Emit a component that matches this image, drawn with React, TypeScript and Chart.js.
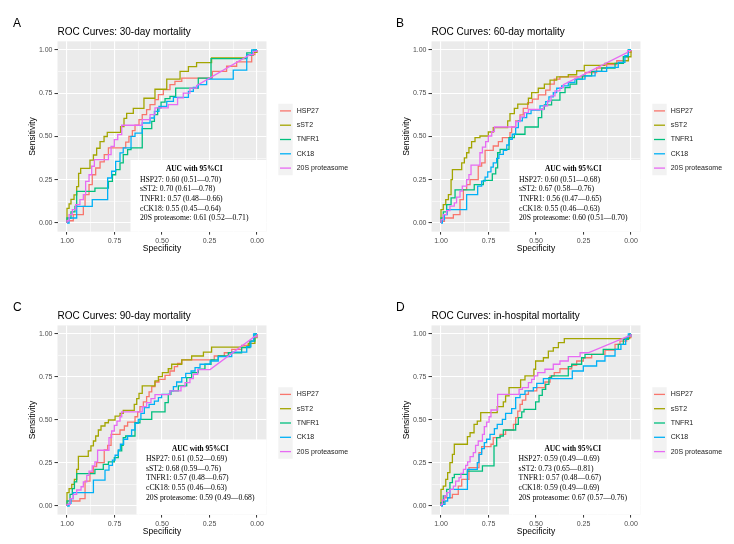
import React, { useEffect, useRef } from "react";
import { Chart, registerables } from "chart.js";
Chart.register(...registerables);

type Pt = [number, number]; // [specificity, sensitivity]

// ---------- shared labels ----------
const SERIES_NAMES = ["HSP27", "sST2", "TNFR1", "CK18", "20S proteasome"];
const SERIES_COLORS = ["#F8766D", "#A3A500", "#00BF7D", "#00B0F6", "#E76BF3"];
const TICK_LABELS = ["0.00", "0.25", "0.50", "0.75", "1.00"];
const GRID_VALUES = [0, 0.125, 0.25, 0.375, 0.5, 0.625, 0.75, 0.875, 1];
const PANEL_LETTERS = ["A", "B", "C", "D"];
const PANEL_TITLES = [
  "ROC Curves: 30-day mortality",
  "ROC Curves: 60-day mortality",
  "ROC Curves: 90-day mortality",
  "ROC Curves: in-hospital mortality",
];
const X_TITLE = "Specificity";
const Y_TITLE = "Sensitivity";
const AUC_TITLE = "AUC with 95%CI";
const AUC_A = ["HSP27: 0.60 (0.51\u20140.70)", "sST2: 0.70 (0.61\u20140.78)", "TNFR1: 0.57 (0.48\u20140.66)", "cCK18: 0.55 (0.45\u20140.64)", "20S proteasome: 0.61 (0.52\u20140.71)"];
const AUC_B = ["HSP27: 0.60 (0.51\u20140.68)", "sST2: 0.67 (0.58\u20140.76)", "TNFR1: 0.56 (0.47\u20140.65)", "cCK18: 0.55 (0.46\u20140.63)", "20S proteasome: 0.60 (0.51\u20140.70)"];
const AUC_C = ["HSP27: 0.61 (0.52\u20140.69)", "sST2: 0.68 (0.59\u20140.76)", "TNFR1: 0.57 (0.48\u20140.67)", "cCK18: 0.55 (0.46\u20140.63)", "20S proteasome: 0.59 (0.49\u20140.68)"];
const AUC_D = ["HSP27: 0.59 (0.49\u20140.69)", "sST2: 0.73 (0.65\u20140.81)", "TNFR1: 0.57 (0.48\u20140.67)", "cCK18: 0.59 (0.49\u20140.69)", "20S proteasome: 0.67 (0.57\u20140.76)"];

// ---------- Panel A: 30-day ----------
const A_HSP27: Pt[] = [[1,0],[1,.013],[.967,.013],[.967,.048],[.914,.048],[.914,.096],[.905,.096],[.905,.164],[.884,.164],[.884,.222],[.867,.222],[.867,.279],[.849,.279],[.849,.318],[.826,.318],[.826,.353],[.804,.353],[.804,.395],[.782,.395],[.782,.434],[.691,.434],[.691,.468],[.674,.468],[.674,.501],[.656,.501],[.656,.534],[.642,.534],[.642,.565],[.621,.565],[.621,.597],[.604,.597],[.604,.626],[.581,.626],[.581,.655],[.563,.655],[.563,.684],[.537,.684],[.537,.713],[.519,.713],[.519,.742],[.493,.742],[.493,.771],[.458,.771],[.458,.8],[.432,.8],[.432,.819],[.396,.819],[.396,.838],[.235,.838],[.235,.877],[.16,.877],[.16,.906],[.107,.906],[.107,.931],[.028,.931],[.028,.973],[.011,.973],[.011,.992],[0,.992],[0,1]];
const A_SST2: Pt[] = [[1,0],[1,.085],[.989,.085],[.989,.11],[.979,.11],[.979,.137],[.963,.137],[.963,.162],[.949,.162],[.949,.21],[.939,.21],[.939,.287],[.928,.287],[.928,.316],[.879,.316],[.879,.364],[.861,.364],[.861,.393],[.844,.393],[.844,.432],[.826,.432],[.826,.47],[.805,.47],[.805,.5],[.788,.5],[.788,.524],[.718,.524],[.718,.557],[.7,.557],[.7,.605],[.686,.605],[.686,.634],[.651,.634],[.651,.663],[.595,.663],[.595,.721],[.537,.721],[.537,.773],[.475,.773],[.475,.832],[.405,.832],[.405,.877],[.361,.877],[.361,.904],[.318,.904],[.318,.927],[.239,.927],[.239,.954],[.054,.954],[.054,.971],[.019,.971],[.019,.986],[0,.986],[0,1]];
const A_TNFR1: Pt[] = [[1,0],[1,.029],[.979,.029],[.979,.064],[.958,.064],[.958,.096],[.949,.096],[.949,.183],[.853,.183],[.853,.202],[.782,.202],[.782,.241],[.761,.241],[.761,.279],[.744,.279],[.744,.308],[.721,.308],[.721,.347],[.704,.347],[.704,.395],[.681,.395],[.681,.424],[.663,.424],[.663,.434],[.604,.434],[.604,.545],[.554,.545],[.554,.588],[.54,.588],[.54,.626],[.523,.626],[.523,.665],[.505,.665],[.505,.699],[.484,.699],[.484,.719],[.458,.719],[.458,.732],[.428,.732],[.428,.78],[.309,.78],[.309,.838],[.242,.838],[.242,.95],[.054,.95],[.054,.983],[.019,.983],[.019,1],[0,1]];
const A_CK18: Pt[] = [[1,0],[.989,0],[.989,.029],[.949,.029],[.949,.096],[.867,.096],[.867,.135],[.786,.135],[.786,.26],[.765,.26],[.765,.299],[.744,.299],[.744,.356],[.721,.356],[.721,.405],[.704,.405],[.704,.434],[.663,.434],[.663,.501],[.642,.501],[.642,.52],[.604,.52],[.604,.578],[.563,.578],[.563,.607],[.54,.607],[.54,.645],[.516,.645],[.516,.674],[.475,.674],[.475,.703],[.44,.703],[.44,.726],[.361,.726],[.361,.761],[.335,.761],[.335,.784],[.309,.784],[.309,.8],[.265,.8],[.265,.832],[.125,.832],[.125,.884],[.054,.884],[.054,.971],[.028,.971],[.028,1],[0,1]];
const A_20S: Pt[] = [[1,0],[1,.013],[.989,.013],[.989,.048],[.972,.048],[.972,.077],[.954,.077],[.954,.106],[.932,.106],[.932,.135],[.914,.135],[.914,.164],[.902,.164],[.902,.241],[.884,.241],[.884,.279],[.87,.279],[.87,.328],[.856,.328],[.856,.366],[.782,.366],[.782,.395],[.768,.395],[.768,.443],[.751,.443],[.751,.482],[.733,.482],[.733,.511],[.712,.511],[.712,.565],[.604,.565],[.604,.597],[.563,.597],[.563,.626],[.537,.626],[.537,.665],[.467,.665],[.467,.684],[.418,.684],[.418,.723],[.388,.723],[.388,.751],[.353,.751],[.353,.78],[.318,.78],[.318,.794],[.037,.973],[.019,.973],[.019,.992],[0,.992],[0,1]];

// ---------- Panel B: 60-day ----------
const B_HSP27: Pt[] = [[1,0],[1,.01],[.982,.01],[.982,.029],[.935,.029],[.935,.048],[.9,.048],[.9,.135],[.882,.135],[.882,.193],[.865,.193],[.865,.222],[.847,.222],[.847,.251],[.804,.251],[.804,.329],[.786,.329],[.786,.348],[.768,.348],[.768,.42],[.725,.42],[.725,.445],[.698,.445],[.698,.47],[.677,.47],[.677,.493],[.637,.493],[.637,.522],[.628,.522],[.628,.555],[.607,.555],[.607,.59],[.584,.59],[.584,.625],[.567,.625],[.567,.663],[.544,.663],[.544,.696],[.519,.696],[.519,.716],[.488,.716],[.488,.741],[.449,.741],[.449,.768],[.426,.768],[.426,.803],[.404,.803],[.404,.832],[.374,.832],[.374,.845],[.242,.845],[.242,.87],[.181,.87],[.181,.896],[.128,.896],[.128,.915],[.075,.915],[.075,.938],[.04,.938],[.04,.961],[.014,.961],[.014,.986],[0,.986],[0,1]];
const B_SST2: Pt[] = [[1,0],[1,.077],[.988,.077],[.988,.106],[.975,.106],[.975,.135],[.961,.135],[.961,.164],[.947,.164],[.947,.251],[.94,.251],[.94,.309],[.891,.309],[.891,.348],[.877,.348],[.877,.377],[.865,.377],[.865,.406],[.853,.406],[.853,.435],[.839,.435],[.839,.47],[.821,.47],[.821,.493],[.795,.493],[.795,.503],[.751,.503],[.751,.526],[.725,.526],[.725,.551],[.649,.551],[.649,.59],[.637,.59],[.637,.632],[.614,.632],[.614,.663],[.596,.663],[.596,.687],[.54,.687],[.54,.721],[.523,.721],[.523,.754],[.488,.754],[.488,.779],[.456,.779],[.456,.803],[.426,.803],[.426,.826],[.391,.826],[.391,.845],[.33,.845],[.33,.857],[.286,.857],[.286,.88],[.246,.88],[.246,.911],[.137,.911],[.137,.923],[.04,.923],[.04,.938],[.014,.938],[.014,.961],[0,.961],[0,1]];
const B_TNFR1: Pt[] = [[1,0],[1,.029],[.988,.029],[.988,.064],[.97,.064],[.97,.106],[.947,.106],[.947,.145],[.926,.145],[.926,.191],[.825,.191],[.825,.222],[.777,.222],[.777,.246],[.73,.246],[.73,.284],[.712,.284],[.712,.319],[.702,.319],[.702,.406],[.689,.406],[.689,.426],[.642,.426],[.642,.493],[.614,.493],[.614,.513],[.558,.513],[.558,.555],[.488,.555],[.488,.609],[.47,.609],[.47,.658],[.456,.658],[.456,.683],[.418,.683],[.418,.71],[.374,.71],[.374,.754],[.347,.754],[.347,.783],[.321,.783],[.321,.803],[.286,.803],[.286,.832],[.256,.832],[.256,.851],[.207,.851],[.207,.876],[.154,.876],[.154,.896],[.084,.896],[.084,.923],[.04,.923],[.04,.961],[.014,.961],[.014,1],[0,1]];
const B_CK18: Pt[] = [[1,0],[.993,0],[.993,.019],[.982,.019],[.982,.048],[.967,.048],[.967,.077],[.865,.077],[.865,.164],[.807,.164],[.807,.213],[.786,.213],[.786,.242],[.768,.242],[.768,.265],[.754,.265],[.754,.296],[.737,.296],[.737,.323],[.725,.323],[.725,.348],[.707,.348],[.707,.373],[.695,.373],[.695,.397],[.672,.397],[.672,.42],[.654,.42],[.654,.451],[.642,.451],[.642,.484],[.625,.484],[.625,.513],[.607,.513],[.607,.551],[.593,.551],[.593,.59],[.572,.59],[.572,.609],[.549,.609],[.549,.632],[.526,.632],[.526,.652],[.479,.652],[.479,.677],[.449,.677],[.449,.702],[.432,.702],[.432,.729],[.409,.729],[.409,.754],[.391,.754],[.391,.779],[.365,.779],[.365,.793],[.33,.793],[.33,.812],[.295,.812],[.295,.832],[.242,.832],[.242,.851],[.189,.851],[.189,.876],[.128,.876],[.128,.899],[.067,.899],[.067,.928],[.032,.928],[.032,.967],[.014,.967],[.014,1],[0,1]];
const B_20S: Pt[] = [[1,0],[1,.019],[.988,.019],[.988,.048],[.97,.048],[.97,.072],[.953,.072],[.953,.097],[.93,.097],[.93,.116],[.918,.116],[.918,.149],[.9,.149],[.9,.184],[.888,.184],[.888,.213],[.865,.213],[.865,.251],[.853,.251],[.853,.28],[.842,.28],[.842,.335],[.795,.335],[.795,.406],[.782,.406],[.782,.439],[.765,.439],[.765,.47],[.751,.47],[.751,.503],[.733,.503],[.733,.528],[.719,.528],[.719,.555],[.607,.555],[.607,.586],[.584,.586],[.584,.613],[.561,.613],[.561,.638],[.54,.638],[.54,.656],[.46,.656],[.46,.677],[.439,.677],[.439,.706],[.421,.706],[.421,.735],[.4,.735],[.4,.764],[.374,.764],[.374,.783],[.356,.783],[.356,.799],[.018,.986],[.018,.996],[0,.996],[0,1]];

// ---------- Panel C: 90-day ----------
const C_HSP27: Pt[] = [[1,0],[1,.01],[.984,.01],[.984,.029],[.932,.029],[.932,.043],[.905,.043],[.905,.145],[.879,.145],[.879,.194],[.861,.194],[.861,.229],[.844,.229],[.844,.252],[.804,.252],[.804,.326],[.786,.326],[.786,.353],[.768,.353],[.768,.417],[.721,.417],[.721,.442],[.698,.442],[.698,.465],[.681,.465],[.681,.488],[.642,.488],[.642,.519],[.628,.519],[.628,.547],[.616,.547],[.616,.578],[.598,.578],[.598,.605],[.581,.605],[.581,.636],[.568,.636],[.568,.663],[.554,.663],[.554,.694],[.537,.694],[.537,.721],[.516,.721],[.516,.736],[.484,.736],[.484,.76],[.458,.76],[.458,.785],[.435,.785],[.435,.81],[.418,.81],[.418,.829],[.396,.829],[.396,.849],[.225,.849],[.225,.872],[.172,.872],[.172,.891],[.133,.891],[.133,.911],[.081,.911],[.081,.934],[.037,.934],[.037,.959],[.014,.959],[.014,.984],[0,.984],[0,1]];
const C_SST2: Pt[] = [[1,0],[1,.078],[.989,.078],[.989,.101],[.975,.101],[.975,.126],[.961,.126],[.961,.155],[.949,.155],[.949,.213],[.94,.213],[.94,.289],[.888,.289],[.888,.32],[.874,.32],[.874,.349],[.861,.349],[.861,.378],[.849,.378],[.849,.407],[.835,.407],[.835,.442],[.821,.442],[.821,.465],[.8,.465],[.8,.484],[.782,.484],[.782,.5],[.747,.5],[.747,.523],[.721,.523],[.721,.539],[.704,.539],[.704,.556],[.646,.556],[.646,.591],[.633,.591],[.633,.624],[.621,.624],[.621,.655],[.604,.655],[.604,.698],[.537,.698],[.537,.727],[.519,.727],[.519,.752],[.498,.752],[.498,.775],[.467,.775],[.467,.798],[.449,.798],[.449,.824],[.396,.824],[.396,.849],[.344,.849],[.344,.872],[.282,.872],[.282,.895],[.239,.895],[.239,.924],[.046,.924],[.046,.946],[.011,.946],[.011,.979],[0,.979],[0,1]];
const C_TNFR1: Pt[] = [[1,0],[1,.029],[.984,.029],[.984,.068],[.972,.068],[.972,.101],[.961,.101],[.961,.14],[.949,.14],[.949,.188],[.853,.188],[.853,.213],[.809,.213],[.809,.242],[.782,.242],[.782,.256],[.751,.256],[.751,.281],[.73,.281],[.73,.32],[.712,.32],[.712,.353],[.704,.353],[.704,.397],[.691,.397],[.691,.407],[.642,.407],[.642,.484],[.616,.484],[.616,.504],[.554,.504],[.554,.547],[.484,.547],[.484,.601],[.467,.601],[.467,.649],[.453,.649],[.453,.669],[.414,.669],[.414,.698],[.37,.698],[.37,.746],[.344,.746],[.344,.775],[.309,.775],[.309,.795],[.274,.795],[.274,.824],[.242,.824],[.242,.849],[.204,.849],[.204,.872],[.151,.872],[.151,.891],[.081,.891],[.081,.921],[.037,.921],[.037,.959],[.011,.959],[.011,1],[0,1]];
const C_CK18: Pt[] = [[1,0],[.989,0],[.989,.016],[.979,.016],[.979,.043],[.967,.043],[.967,.078],[.861,.078],[.861,.151],[.8,.151],[.8,.209],[.779,.209],[.779,.236],[.761,.236],[.761,.267],[.747,.267],[.747,.295],[.73,.295],[.73,.326],[.719,.326],[.719,.359],[.702,.359],[.702,.388],[.681,.388],[.681,.407],[.66,.407],[.66,.442],[.642,.442],[.642,.481],[.625,.481],[.625,.504],[.611,.504],[.611,.539],[.593,.539],[.593,.572],[.568,.572],[.568,.591],[.54,.591],[.54,.61],[.519,.61],[.519,.63],[.502,.63],[.502,.649],[.458,.649],[.458,.669],[.44,.669],[.44,.694],[.423,.694],[.423,.721],[.396,.721],[.396,.746],[.375,.746],[.375,.771],[.347,.771],[.347,.785],[.326,.785],[.326,.804],[.3,.804],[.3,.824],[.247,.824],[.247,.843],[.204,.843],[.204,.868],[.133,.868],[.133,.895],[.054,.895],[.054,.926],[.032,.926],[.032,.959],[.018,.959],[.018,1],[0,1]];
const C_20S: Pt[] = [[1,0],[1,.01],[.984,.01],[.984,.043],[.967,.043],[.967,.068],[.949,.068],[.949,.093],[.926,.093],[.926,.112],[.914,.112],[.914,.14],[.896,.14],[.896,.178],[.884,.178],[.884,.203],[.867,.203],[.867,.233],[.853,.233],[.853,.256],[.839,.256],[.839,.324],[.779,.324],[.779,.397],[.765,.397],[.765,.436],[.751,.436],[.751,.469],[.737,.469],[.737,.494],[.721,.494],[.721,.519],[.712,.519],[.712,.547],[.604,.547],[.604,.578],[.581,.578],[.581,.601],[.558,.601],[.558,.624],[.537,.624],[.537,.647],[.458,.647],[.458,.669],[.4,.669],[.4,.694],[.379,.694],[.379,.717],[.353,.717],[.353,.74],[.335,.74],[.335,.766],[.312,.766],[.312,.793],[.247,.793],[.014,.984],[0,.984],[0,1]];

// ---------- Panel D: in-hospital ----------
const D_HSP27: Pt[] = [[1,0],[1,.019],[.982,.019],[.982,.048],[.94,.048],[.94,.068],[.909,.068],[.909,.116],[.891,.116],[.891,.155],[.853,.155],[.853,.223],[.8,.223],[.8,.31],[.786,.31],[.786,.345],[.737,.345],[.737,.359],[.725,.359],[.725,.397],[.689,.397],[.689,.417],[.66,.417],[.66,.442],[.619,.442],[.619,.475],[.607,.475],[.607,.514],[.596,.514],[.596,.552],[.584,.552],[.584,.591],[.572,.591],[.572,.616],[.554,.616],[.554,.649],[.54,.649],[.54,.669],[.496,.669],[.496,.688],[.453,.688],[.453,.721],[.426,.721],[.426,.756],[.404,.756],[.404,.775],[.374,.775],[.374,.798],[.312,.798],[.312,.818],[.286,.818],[.286,.843],[.251,.843],[.251,.862],[.207,.862],[.207,.882],[.137,.882],[.137,.907],[.084,.907],[.084,.94],[.058,.94],[.058,.959],[.023,.959],[.023,.979],[0,.979],[0,1]];
const D_SST2: Pt[] = [[1,0],[1,.097],[.988,.097],[.988,.116],[.975,.116],[.975,.155],[.965,.155],[.965,.194],[.953,.194],[.953,.252],[.94,.252],[.94,.3],[.93,.3],[.93,.359],[.861,.359],[.861,.403],[.847,.403],[.847,.426],[.826,.426],[.826,.475],[.809,.475],[.809,.494],[.791,.494],[.791,.543],[.704,.543],[.704,.578],[.672,.578],[.672,.605],[.66,.605],[.66,.64],[.642,.64],[.642,.688],[.581,.688],[.581,.733],[.558,.733],[.558,.756],[.511,.756],[.511,.795],[.502,.795],[.502,.843],[.461,.843],[.461,.862],[.435,.862],[.435,.901],[.409,.901],[.409,.921],[.382,.921],[.382,.95],[.351,.95],[.351,.973],[.007,.973],[.007,1],[0,1]];
const D_TNFR1: Pt[] = [[1,0],[1,.019],[.988,.019],[.988,.058],[.97,.058],[.97,.097],[.953,.097],[.953,.136],[.94,.136],[.94,.165],[.93,.165],[.93,.184],[.861,.184],[.861,.203],[.782,.203],[.782,.233],[.721,.233],[.721,.349],[.707,.349],[.707,.397],[.689,.397],[.689,.407],[.672,.407],[.672,.442],[.607,.442],[.607,.475],[.593,.475],[.593,.514],[.575,.514],[.575,.547],[.563,.547],[.563,.562],[.502,.562],[.502,.605],[.484,.605],[.484,.643],[.467,.643],[.467,.678],[.449,.678],[.449,.707],[.432,.707],[.432,.746],[.418,.746],[.418,.756],[.33,.756],[.33,.81],[.312,.81],[.312,.824],[.26,.824],[.26,.862],[.242,.862],[.242,.882],[.146,.882],[.146,.911],[.067,.911],[.067,.94],[.04,.94],[.04,.969],[.014,.969],[.014,.988],[0,.988],[0,1]];
const D_CK18: Pt[] = [[1,0],[.993,0],[.993,.01],[.979,.01],[.979,.029],[.965,.029],[.965,.048],[.953,.048],[.953,.097],[.861,.097],[.861,.213],[.809,.213],[.809,.252],[.8,.252],[.8,.3],[.786,.3],[.786,.333],[.772,.333],[.772,.368],[.76,.368],[.76,.388],[.742,.388],[.742,.417],[.719,.417],[.719,.45],[.704,.45],[.704,.475],[.677,.475],[.677,.504],[.66,.504],[.66,.539],[.628,.539],[.628,.566],[.607,.566],[.607,.63],[.584,.63],[.584,.649],[.558,.649],[.558,.669],[.514,.669],[.514,.688],[.496,.688],[.496,.713],[.461,.713],[.461,.74],[.309,.74],[.309,.785],[.251,.785],[.251,.814],[.181,.814],[.181,.843],[.137,.843],[.137,.872],[.084,.872],[.084,.911],[.053,.911],[.053,.94],[.028,.94],[.028,.979],[.014,.979],[.014,1],[0,1]];
const D_20S: Pt[] = [[1,0],[1,.01],[.993,.01],[.993,.035],[.982,.035],[.982,.058],[.97,.058],[.97,.078],[.953,.078],[.953,.097],[.935,.097],[.935,.116],[.923,.116],[.923,.145],[.905,.145],[.905,.165],[.895,.165],[.895,.19],[.882,.19],[.882,.213],[.87,.213],[.87,.236],[.86,.236],[.86,.256],[.847,.256],[.847,.287],[.83,.287],[.83,.31],[.818,.31],[.818,.353],[.804,.353],[.804,.378],[.782,.378],[.782,.417],[.772,.417],[.772,.461],[.76,.461],[.76,.488],[.747,.488],[.747,.519],[.737,.519],[.737,.558],[.702,.558],[.702,.649],[.589,.649],[.589,.678],[.572,.678],[.572,.688],[.54,.688],[.54,.717],[.523,.717],[.523,.736],[.509,.736],[.509,.756],[.491,.756],[.491,.775],[.453,.775],[.453,.795],[.409,.795],[.409,.824],[.374,.824],[.374,.843],[.33,.843],[.33,.868],[.268,.868],[.268,.891],[.225,.891],[.014,.988],[0,.988],[0,1]];

const PANEL_SERIES: Pt[][][] = [
  [A_HSP27, A_SST2, A_TNFR1, A_CK18, A_20S],
  [B_HSP27, B_SST2, B_TNFR1, B_CK18, B_20S],
  [C_HSP27, C_SST2, C_TNFR1, C_CK18, C_20S],
  [D_HSP27, D_SST2, D_TNFR1, D_CK18, D_20S],
];
const PANEL_AUC = [AUC_A, AUC_B, AUC_C, AUC_D];

// ---------- layout (pixels, per quadrant canvas of 367x272) ----------
const CW = 367;
const CH = 272;
const GEOM = [
  { left: 0, top: 0, plot: [57.5, 41.35, 266.5, 231.65], letterX: 13, boxLeft: 130.5, boxTop: 160 },
  { left: 367, top: 0, plot: [64.5, 41.35, 273.5, 231.65], letterX: 29, boxLeft: 142.5, boxTop: 160 },
  { left: 0, top: 272, plot: [57.5, 53.4, 266.5, 242.6], letterX: 13, boxLeft: 136.5, boxTop: 167.4 },
  { left: 367, top: 272, plot: [64.5, 53.4, 273.5, 242.6], letterX: 29, boxLeft: 142, boxTop: 167.4 },
];
const SANS = '"Liberation Sans", Arial, sans-serif';
const SERIF = '"Liberation Serif", "Times New Roman", serif';

const isMajor = (v: any) => typeof v === "number" && Math.abs(v * 4 - Math.round(v * 4)) < 1e-6;

function makeDecor(idx: number) {
  const g = GEOM[idx];
  const [pl, pt, pr, pb] = g.plot;
  return {
    id: "decor" + idx,
    beforeDraw(chart: any) {
      const { ctx, chartArea: a } = chart;
      ctx.save();
      ctx.fillStyle = "#FFFFFF";
      ctx.fillRect(0, 0, CW, CH);
      ctx.fillStyle = "#EBEBEB";
      ctx.fillRect(a.left, a.top, a.right - a.left, a.bottom - a.top);
      ctx.restore();
    },
    afterDatasetsDraw(chart: any) {
      const ctx = chart.ctx;
      const lines = PANEL_AUC[idx];
      ctx.save();
      ctx.fillStyle = "#FFFFFF";
      ctx.fillRect(g.boxLeft, g.boxTop, pr - g.boxLeft, pb - g.boxTop);
      ctx.font = `7.7px ${SERIF}`;
      let maxW = 0;
      lines.forEach((l) => (maxW = Math.max(maxW, ctx.measureText(l).width)));
      const tx = g.boxLeft + 9.5;
      ctx.fillStyle = "#000000";
      ctx.textBaseline = "middle";
      ctx.textAlign = "center";
      ctx.font = `bold 7.4px ${SERIF}`;
      ctx.fillText(AUC_TITLE, tx + maxW / 2, g.boxTop + 9.3);
      ctx.textAlign = "left";
      ctx.font = `7.7px ${SERIF}`;
      lines.forEach((l, i) => ctx.fillText(l, tx, g.boxTop + 19.8 + 9.6 * i));
      ctx.restore();
    },
    afterDraw(chart: any) {
      const ctx = chart.ctx;
      ctx.save();
      // panel letter
      ctx.fillStyle = "#000000";
      ctx.textBaseline = "middle";
      ctx.textAlign = "left";
      ctx.font = `12px ${SANS}`;
      ctx.fillText(PANEL_LETTERS[idx], g.letterX, pt - 17.5);
      // title
      ctx.textBaseline = "alphabetic";
      ctx.font = `10px ${SANS}`;
      ctx.fillText(PANEL_TITLES[idx], pl, pt - 6.6);
      // legend
      const rowH = 14.3;
      const keyW = 14.4;
      const keyLeft = pr + 11.8;
      const lTop = (pt + pb) / 2 + 3 - rowH * 2.5;
      ctx.fillStyle = "#F2F2F2";
      ctx.fillRect(keyLeft, lTop, keyW, rowH * 5);
      ctx.font = `7px ${SANS}`;
      ctx.textBaseline = "middle";
      SERIES_NAMES.forEach((name, i) => {
        const cy = lTop + rowH * (i + 0.5);
        ctx.strokeStyle = SERIES_COLORS[i];
        ctx.lineWidth = 1.3;
        ctx.beginPath();
        ctx.moveTo(keyLeft + 1.7, cy);
        ctx.lineTo(keyLeft + keyW - 1.7, cy);
        ctx.stroke();
        ctx.fillStyle = "#1A1A1A";
        ctx.fillText(name, keyLeft + keyW + 4, cy);
      });
      ctx.restore();
    },
  };
}

function axisCommon() {
  return {
    type: "linear" as const,
    min: -0.05,
    max: 1.05,
    bounds: "data" as const,
    border: { display: false },
    afterBuildTicks: (scale: any) => {
      scale.ticks = GRID_VALUES.map((v) => ({ value: v }));
    },
    grid: {
      color: "#FFFFFF",
      lineWidth: (c: any) => (isMajor(c.tick && c.tick.value) ? 1.1 : 0.55),
      tickColor: (c: any) => (isMajor(c.tick && c.tick.value) ? "#333333" : "rgba(0,0,0,0)"),
      tickWidth: 1,
      tickLength: 3,
      drawTicks: true,
    },
    ticks: {
      autoSkip: false,
      maxRotation: 0,
      minRotation: 0,
      color: "#4D4D4D",
      font: { family: SANS, size: 7 },
      padding: 2,
      callback: (v: any) => (isMajor(v) ? TICK_LABELS[Math.round(v * 4)] : ""),
    },
  };
}

function Panel({ idx }: { idx: number }) {
  const ref = useRef<HTMLCanvasElement | null>(null);
  useEffect(() => {
    const g = GEOM[idx];
    const [pl, pt, pr, pb] = g.plot;
    const series = PANEL_SERIES[idx];
    const datasets = series.map((pts, i) => ({
      label: SERIES_NAMES[i],
      data: pts.map(([x, y]) => ({ x, y })),
      borderColor: SERIES_COLORS[i],
      backgroundColor: SERIES_COLORS[i],
      borderWidth: 1.3,
      pointRadius: 0,
      pointHoverRadius: 0,
      pointBorderWidth: 0,
      pointStyle: false,
      tension: 0,
      fill: false,
      order: 4 - i,
    }));
    const xc: any = axisCommon();
    const yc: any = axisCommon();
    const titleFont = { family: SANS, size: 8.5 };
    const chart = new Chart(ref.current as HTMLCanvasElement, {
      type: "line",
      data: { datasets },
      options: {
        animation: false,
        responsive: false,
        devicePixelRatio: 1,
        events: [],
        elements: { point: { radius: 0, hoverRadius: 0, borderWidth: 0 } },
        layout: { padding: { left: 0, top: pt, right: CW - pr, bottom: 0 } },
        plugins: { legend: { display: false }, tooltip: { enabled: false }, title: { display: false } },
        scales: {
          x: {
            ...xc,
            position: "bottom",
            reverse: true,
            afterFit: (s: any) => {
              s.height = CH - pb;
            },
            title: {
              display: true,
              text: X_TITLE,
              color: "#000000",
              font: titleFont,
              padding: { top: 0, bottom: CH - (pb + 16.6) - 5.1 },
            },
          },
          y: {
            ...yc,
            position: "left",
            afterFit: (s: any) => {
              s.width = pl;
            },
            title: {
              display: true,
              text: Y_TITLE,
              color: "#000000",
              font: titleFont,
              padding: { top: pl - 24.5 - 5.1, bottom: 0 },
            },
          },
        },
      },
      plugins: [makeDecor(idx)],
    } as any);
    return () => chart.destroy();
  }, [idx]);
  const g = GEOM[idx];
  return (
    <canvas
      ref={ref}
      width={CW}
      height={CH}
      style={{ position: "absolute", left: g.left, top: g.top, width: CW, height: CH, display: "block" }}
    />
  );
}

export default function App() {
  return (
    <div style={{ position: "absolute", left: 0, top: 0, width: 734, height: 544, background: "#FFFFFF" }}>
      {[0, 1, 2, 3].map((i) => (
        <Panel key={i} idx={i} />
      ))}
    </div>
  );
}
